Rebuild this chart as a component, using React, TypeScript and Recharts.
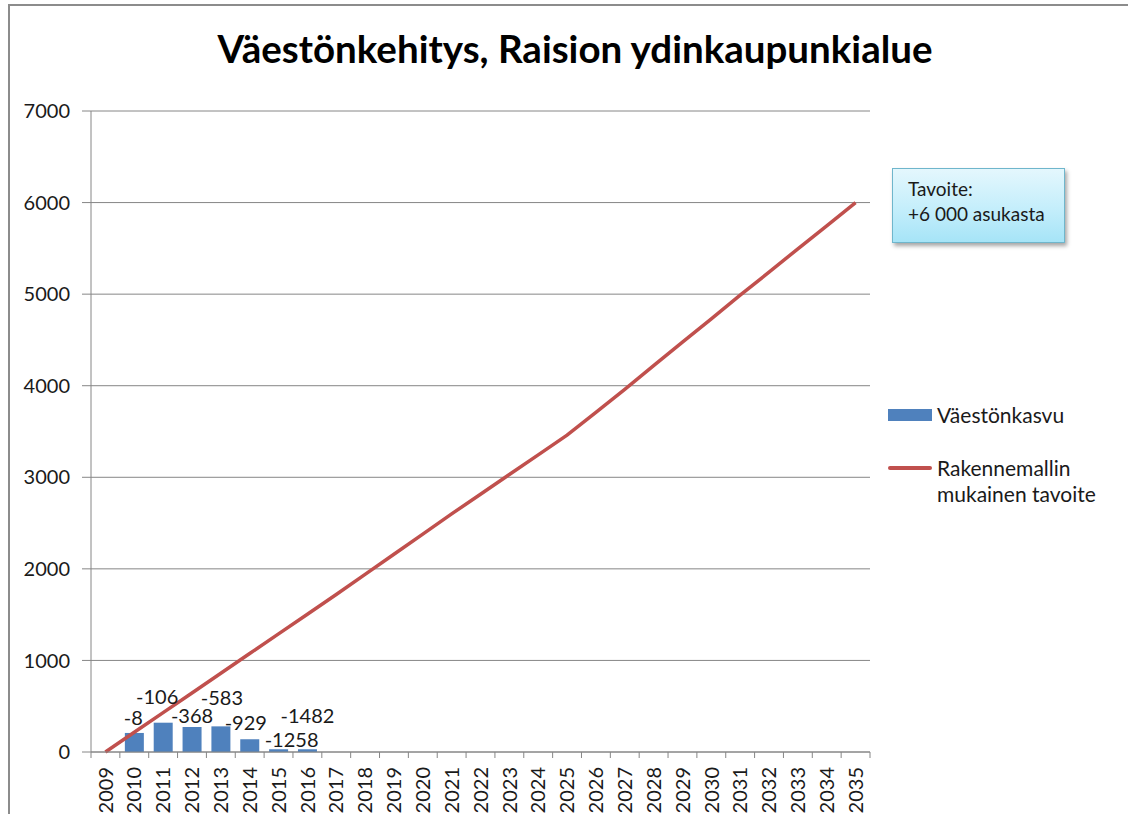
import React from "react";
import {
  ComposedChart,
  Bar,
  Line,
  XAxis,
  YAxis,
  CartesianGrid,
  Legend,
  LabelList,
} from "recharts";

// ---------- data ----------
const YEARS: string[] = [
  "2009", "2010", "2011", "2012", "2013", "2014", "2015", "2016", "2017",
  "2018", "2019", "2020", "2021", "2022", "2023", "2024", "2025", "2026",
  "2027", "2028", "2029", "2030", "2031", "2032", "2033", "2034", "2035",
];

const GROWTH: (number | null)[] = [
  null, 208, 320, 273, 280, 138, 30, 30, null,
  null, null, null, null, null, null, null, null, null,
  null, null, null, null, null, null, null, null, null,
];

const GROWTH_LABELS: string[] = [
  "", "-8", "-106", "-368", "-583", "-929", "-1258", "-1482", "",
  "", "", "", "", "", "", "", "", "",
  "", "", "", "", "", "", "", "", "",
];

const TARGET: number[] = [
  0, 215, 430, 645, 860, 1075, 1290, 1505, 1720,
  1940, 2160, 2380, 2600, 2815, 3030, 3245, 3460, 3710,
  3960, 4220, 4475, 4730, 4990, 5240, 5495, 5745, 6000,
];

const Y_TICKS: number[] = [0, 1000, 2000, 3000, 4000, 5000, 6000, 7000];

const TITLE = "Väestönkehitys, Raision ydinkaupunkialue";
const SERIES_BAR = "Väestönkasvu";
const SERIES_LINE = "Rakennemallin mukainen tavoite";
const NOTE_LINES = ["Tavoite:", "+6 000 asukasta"];

// ---------- layout / style ----------
const W = 1128;
const H = 814;
const PLOT_LEFT = 91;
const PLOT_RIGHT = 870;
const PLOT_TOP = 111;
const PLOT_BOTTOM = 752;
const Y_AXIS_W = 60;
const BAND = (PLOT_RIGHT - PLOT_LEFT) / YEARS.length;
const FONT = "Lato, 'Open Sans', 'DejaVu Sans', sans-serif";
const AXIS_COLOR = "#868686";
const BAR_COLOR = "#4f81bd";
const LINE_COLOR = "#c0504d";
const TEXT_COLOR = "#1a1a1a";
const AXIS_FONT = 20;

// manual label nudges (as placed in the original chart), by year index
const LABEL_DX = [0, -1, -6, 0, 1, -4, 13, 0];
const LABEL_DY = [0, -16, -27, -12, -29, -17, -10, -34];

const data = YEARS.map((year, i) => ({
  year,
  growth: GROWTH[i],
  label: GROWTH_LABELS[i],
  target: TARGET[i],
}));

const XTick = (props: any) => {
  const { x, y, payload, index } = props;
  const left = x - BAND / 2;
  return (
    <g>
      <line x1={left} y1={y} x2={left} y2={y + 6} stroke={AXIS_COLOR} strokeWidth={1} />
      {index === YEARS.length - 1 && (
        <line x1={x + BAND / 2} y1={y} x2={x + BAND / 2} y2={y + 6} stroke={AXIS_COLOR} strokeWidth={1} />
      )}
      <text
        x={x}
        y={y + 15}
        transform={`rotate(-90 ${x} ${y + 15})`}
        textAnchor="end"
        dy="0.36em"
        fontSize={AXIS_FONT}
        fontFamily={FONT}
        fill={TEXT_COLOR}
      >
        {payload.value}
      </text>
    </g>
  );
};

const BarLabel = (props: any) => {
  const { x, y, width, value } = props;
  if (!value) return null;
  const idx = GROWTH_LABELS.indexOf(String(value));
  const dx = LABEL_DX[idx] ?? 0;
  const dy = LABEL_DY[idx] ?? -14;
  return (
    <text
      x={x + width / 2 + dx}
      y={y + dy}
      textAnchor="middle"
      dominantBaseline="central"
      fontSize={20}
      fontFamily={FONT}
      fill={TEXT_COLOR}
    >
      {value}
    </text>
  );
};

const LegendContent = () => (
  <div style={{ fontFamily: FONT, fontSize: 21, color: TEXT_COLOR, position: "relative", width: 240, height: 110 }}>
    <div style={{ position: "absolute", left: 0, top: 4, width: 44, height: 12, background: BAR_COLOR }} />
    <div style={{ position: "absolute", left: 49, top: -3, lineHeight: "26px", whiteSpace: "nowrap" }}>
      {SERIES_BAR}
    </div>
    <div style={{ position: "absolute", left: 0, top: 61, width: 44, height: 4, background: LINE_COLOR, borderRadius: 2 }} />
    <div style={{ position: "absolute", left: 49, top: 50, lineHeight: "26px", width: 190 }}>
      {SERIES_LINE.split(" ")[0]}
      <br />
      {SERIES_LINE.split(" ").slice(1).join(" ")}
    </div>
  </div>
);

export default function App() {
  return (
    <div style={{ position: "absolute", left: 0, top: 0, width: W, height: H, background: "#fff", overflow: "hidden" }}>
      <div
        style={{
          position: "absolute",
          left: 8,
          top: 4,
          width: W,
          height: H + 20,
          border: "2px solid #8c8c8c",
          boxSizing: "border-box",
        }}
      />
      <div
        style={{
          position: "absolute",
          left: 0,
          top: 22,
          width: 1150,
          textAlign: "center",
          fontFamily: FONT,
          fontWeight: 700,
          fontSize: 38.5,
          lineHeight: "52px",
          color: "#000",
        }}
      >
        {TITLE}
      </div>
      <div style={{ position: "absolute", left: 0, top: 0 }}>
        <ComposedChart
          width={W}
          height={H}
          data={data}
          margin={{
            top: PLOT_TOP,
            right: W - PLOT_RIGHT,
            bottom: 0,
            left: PLOT_LEFT - Y_AXIS_W,
          }}
        >
          <CartesianGrid vertical={false} stroke={AXIS_COLOR} strokeWidth={1} />
          <XAxis
            dataKey="year"
            interval={0}
            height={H - PLOT_BOTTOM}
            tickSize={0}
            tickMargin={0}
            tickLine={false}
            axisLine={{ stroke: AXIS_COLOR, strokeWidth: 1 }}
            tick={<XTick />}
          />
          <YAxis
            width={Y_AXIS_W}
            domain={[0, 7000]}
            ticks={Y_TICKS}
            interval={0}
            tickSize={9}
            tickMargin={12}
            axisLine={{ stroke: AXIS_COLOR, strokeWidth: 1 }}
            tickLine={{ stroke: AXIS_COLOR, strokeWidth: 1 }}
            tick={{ fontSize: AXIS_FONT, fontFamily: FONT, fill: TEXT_COLOR }}
          />
          <Bar dataKey="growth" name={SERIES_BAR} fill={BAR_COLOR} barSize={19} isAnimationActive={false}>
            <LabelList dataKey="label" content={<BarLabel />} />
          </Bar>
          <Line
            dataKey="target"
            name={SERIES_LINE}
            type="linear"
            stroke={LINE_COLOR}
            strokeWidth={3.5}
            dot={false}
            activeDot={false}
            isAnimationActive={false}
          />
          <Legend
            layout="horizontal"
            verticalAlign="middle"
            align="center"
            wrapperStyle={{ left: 888, top: 405, width: 240, height: 110 }}
            content={<LegendContent />}
          />
        </ComposedChart>
      </div>
      <div
        style={{
          position: "absolute",
          left: 892,
          top: 168,
          width: 173,
          height: 75,
          boxSizing: "border-box",
          border: "1.5px solid #6fb6cc",
          background: "linear-gradient(to bottom, #e4f7fd 0%, #c4eefb 55%, #a6e4f7 100%)",
          boxShadow: "2px 3px 4px rgba(0,0,0,0.35)",
          fontFamily: FONT,
          fontSize: 19,
          color: TEXT_COLOR,
          padding: "7px 0 0 15px",
          lineHeight: "25px",
        }}
      >
        {NOTE_LINES[0]}
        <br />
        {NOTE_LINES[1]}
      </div>
    </div>
  );
}
